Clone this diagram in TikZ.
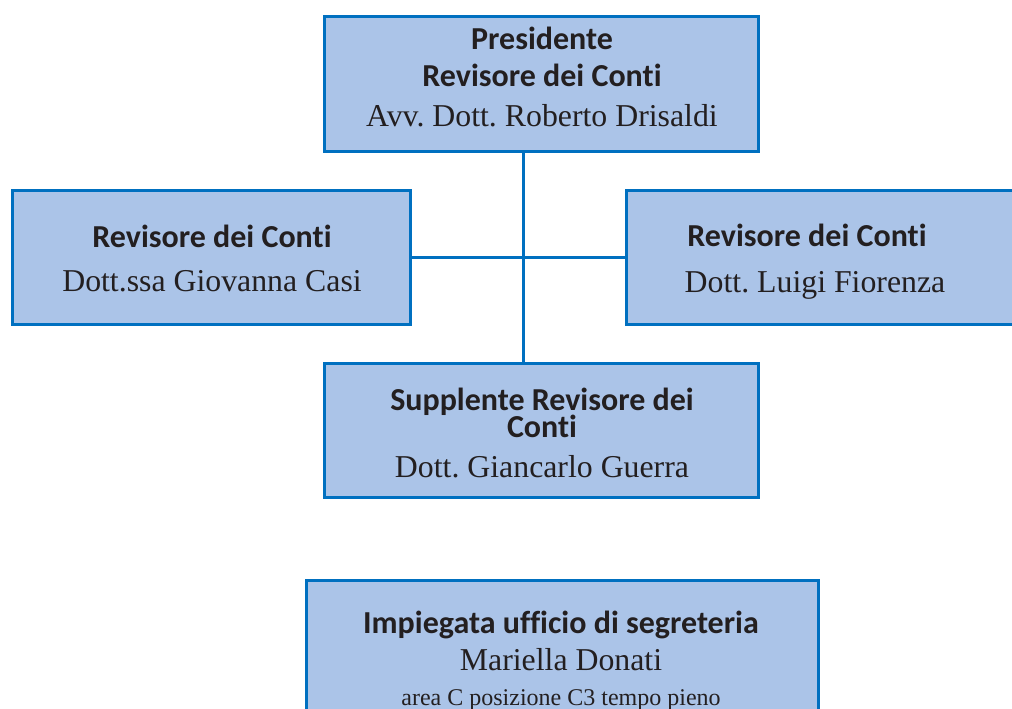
\documentclass[tikz,border=0pt]{standalone}
\usepackage{fontspec}
\setmainfont{Liberation Serif}
\newfontfamily\headfont[Ligatures=NoCommon]{Carlito}
\frenchspacing
\definecolor{boxfill}{RGB}{171,196,232}
\definecolor{boxline}{RGB}{0,112,192}
\definecolor{inktext}{RGB}{35,31,32}
\tikzset{
  orgbox/.style={rectangle, draw=boxline, fill=boxfill, line width=3pt, inner sep=0pt},
  headtxt/.style={anchor=base, inner sep=0pt, text=inktext, font=\headfont\bfseries\fontsize{32}{34}\selectfont},
  nametxt/.style={anchor=base, inner sep=0pt, text=inktext, font=\fontsize{31.8}{34}\selectfont},
  link/.style={draw=boxline, line width=3pt}
}
\begin{document}
\begin{tikzpicture}[x=1pt,y=-1pt]
                \useasboundingbox (0,0) rectangle (1012,709);
                \begin{scope}
                \clip (0,0) rectangle (1012,709);

                % boxes
                \node [orgbox, minimum width=434pt, minimum height=134pt] (pres) at (541,84) {};
                \node [orgbox, minimum width=398pt, minimum height=134pt] (revl) at (211,257) {};
                \node [orgbox, minimum width=400pt, minimum height=134pt] (revr) at (826,257) {};
                \node [orgbox, minimum width=434pt, minimum height=134pt] (supp) at (541,430) {};
                \node [orgbox, minimum width=512pt, minimum height=160pt] (segr) at (562,660) {};

                % connectors
                \coordinate (hub) at (523,257);
                \draw [link] (hub) -- (pres.south -| hub);
                \draw [link] (hub) -- (supp.north -| hub);
                \draw [link] (revl.east) -- (revr.west);

                % texts
                \node [headtxt] (presA) at (542,49) {Presidente};
                \node [headtxt] (presB) at (542,87) {Revisore dei Conti};
                \node [nametxt] (presC) at (542,126) {Avv. Dott. Roberto Drisaldi};

                \node [headtxt] (revlA) at (212,247) {Revisore dei Conti};
                \node [nametxt] (revlB) at (212,291) {Dott.ssa Giovanna Casi};

                \node [headtxt] (revrA) at (807,246) {Revisore dei Conti};
                \node [nametxt] (revrB) at (815,292) {Dott. Luigi Fiorenza};

                \node [headtxt] (suppA) at (542,410) {Supplente Revisore dei};
                \node [headtxt] (suppB) at (542,437) {Conti};
                \node [nametxt] (suppC) at (542,477) {Dott. Giancarlo Guerra};

                \node [headtxt] (segrA) at (561,633) {Impiegata ufficio di segreteria};
                \node [nametxt] (segrB) at (561,670) {Mariella Donati};
                \node [nametxt, font=\fontsize{24}{26}\selectfont] (segrC) at (561,705) {area C posizione C3 tempo pieno};
                \end{scope}
\end{tikzpicture}
\end{document}
